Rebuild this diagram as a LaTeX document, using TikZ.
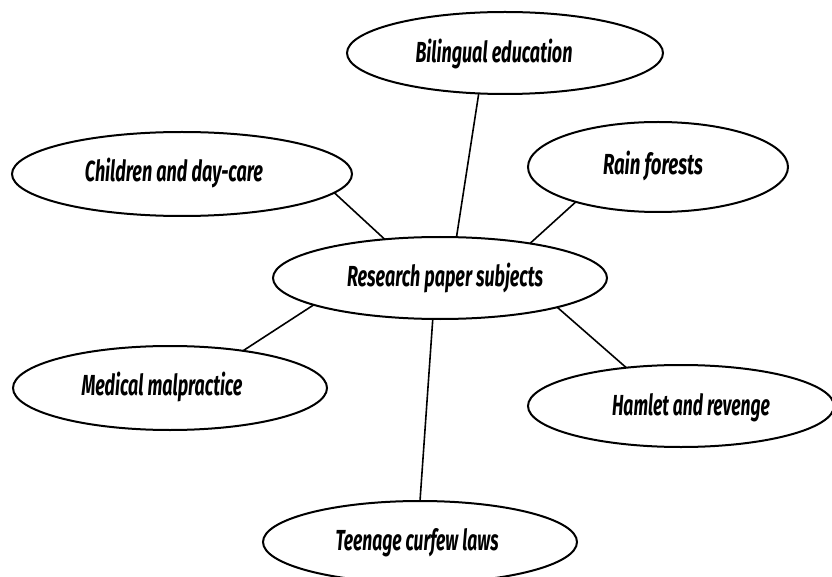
\documentclass[tikz,border=0pt]{standalone}
\usepackage{fontspec}
\setmainfont{Fira Sans}
\usetikzlibrary{shapes.geometric}
\newcommand\fitw[2]{\resizebox{#1pt}{\height}{\bfseries\itshape #2}}
\begin{document}
\begin{tikzpicture}[x=1pt,y=-1pt,
  bub/.style={ellipse,draw,line width=2pt,inner sep=0pt,outer sep=0pt},
  lbl/.style={anchor=base,inner sep=0pt,font=\fontsize{29}{33}\selectfont},
  link/.style={line width=1.6pt}]
\useasboundingbox[fill=white] (0,0) rectangle (832,577);
% bubbles
\node[bub,minimum width=316pt,minimum height=82pt] (bil) at (505,53) {};
\node[bub,minimum width=340pt,minimum height=84pt] (child) at (182,174) {};
\node[bub,minimum width=260pt,minimum height=90pt] (rain) at (658,167) {};
\node[bub,minimum width=334pt,minimum height=82pt] (cen) at (440,278) {};
\node[bub,minimum width=314pt,minimum height=84pt] (med) at (170,388) {};
\node[bub,minimum width=306pt,minimum height=82pt] (ham) at (681,406) {};
\node[bub,minimum width=314pt,minimum height=82pt] (teen) at (420,542) {};
% labels
\node[lbl] (tbil) at (494,63) {\fitw{157}{Bilingual education}};
\node[lbl] (tchild) at (174,182) {\fitw{178}{Children and day-care}};
\node[lbl] (train) at (653,175) {\fitw{100}{Rain forests}};
\node[lbl] (tcen) at (445,287) {\fitw{196}{Research paper subjects}};
\node[lbl] (tmed) at (162,395) {\fitw{161}{Medical malpractice}};
\node[lbl] (tham) at (691,415) {\fitw{158}{Hamlet and revenge}};
\node[lbl] (tteen) at (417,550) {\fitw{163}{Teenage curfew laws}};
% connectors
\draw[link] (child.-7) -- (cen.145);
\draw[link] (bil.237) -- (cen.68);
\draw[link] (rain.203) -- (cen.21);
\draw[link] (med.27) -- (cen.192);
\draw[link] (ham.145) -- (cen.-14);
\draw[link] (teen.north) -- (cen.260);
\end{tikzpicture}
\end{document}
